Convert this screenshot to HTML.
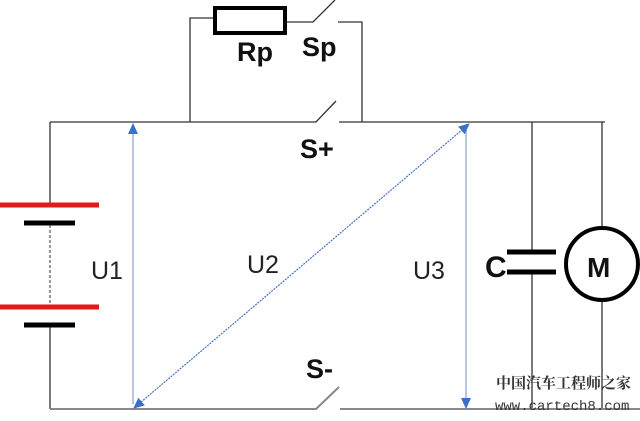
<!DOCTYPE html>
<html><head><meta charset="utf-8"><style>body{margin:0;background:#fff;overflow:hidden}svg{display:block}</style></head><body>
<svg width="640" height="421" viewBox="0 0 640 421" xmlns="http://www.w3.org/2000/svg" font-family="Liberation Sans, sans-serif">
<defs>
<marker id="a" markerWidth="11" markerHeight="10" refX="10" refY="5" orient="auto-start-reverse" markerUnits="userSpaceOnUse"><path d="M0,0 L11,5 L0,10 z" fill="#3b6fc9"/></marker>
</defs>
<g stroke="#333" stroke-width="1.3" fill="none">
<path d="M50,122 H316 L336,101 M339,122 H605"/>
<path d="M50,122 V205 M50,325 V409"/>
<path d="M190,122 V18 H215 M285,22 H313 L335,0 M338,22 H362 V122"/>
<path d="M532,122 V252 M532,272 V409 M602,122 V228 M602,300 V409"/>
</g>
<path d="M50,409 H316 L339,387 M340,409 H640" stroke="#888" stroke-width="2" fill="none"/>
<rect x="215" y="8" width="70" height="25" fill="none" stroke="#000" stroke-width="4"/>
<line x1="50" y1="225" x2="50" y2="305" stroke="#333" stroke-width="1" stroke-dasharray="3,2"/>
<g stroke-width="5">
<line x1="0" y1="205" x2="99" y2="205" stroke="#e21a1a"/>
<line x1="24" y1="223" x2="75" y2="223" stroke="#000"/>
<line x1="0" y1="307" x2="99" y2="307" stroke="#e21a1a"/>
<line x1="24" y1="325" x2="75" y2="325" stroke="#000"/>
<line x1="507" y1="252" x2="556" y2="252" stroke="#000"/>
<line x1="507" y1="272" x2="556" y2="272" stroke="#000"/>
</g>
<circle cx="602" cy="264" r="36" fill="#fff" stroke="#000" stroke-width="4"/>
<g stroke="#9fb3d8" stroke-width="1.5">
<line x1="133" y1="124" x2="133" y2="404" marker-start="url(#a)"/>
<line x1="466" y1="124" x2="466" y2="408" marker-end="url(#a)"/>
<line x1="134" y1="408" x2="469" y2="124" stroke="#4a74c4" stroke-width="1.2" stroke-dasharray="2,1" marker-start="url(#a)" marker-end="url(#a)"/>
</g>
<g font-weight="bold" font-size="27" fill="#111">
<text x="237" y="61">Rp</text><text x="302" y="56">Sp</text>
<text x="300" y="158">S+</text><text x="306" y="378">S-</text>
<text x="485" y="277" font-size="30">C</text><text x="587" y="277" font-size="28">M</text>
</g>
<g font-size="25" fill="#222">
<text x="91" y="279">U1</text><text x="247" y="273">U2</text><text x="413" y="279">U3</text>
</g>
<text x="496" y="388" font-size="15" font-family="Noto Serif CJK SC, serif" font-weight="bold" fill="#333">中国汽车工程师之家</text>
<text x="495" y="410" font-size="14" font-family="Liberation Mono, monospace" fill="#333">www.cartech8.com</text>
</svg>
</body></html>
